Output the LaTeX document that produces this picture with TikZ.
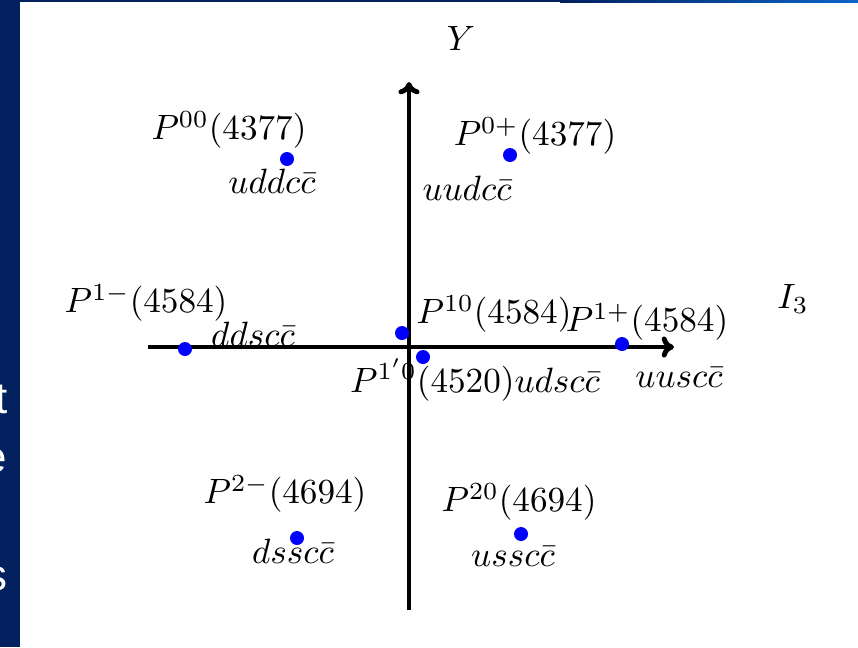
\documentclass[tikz,border=0pt]{standalone}
\usepackage{fontspec}
\usepackage{amsmath}
\usetikzlibrary{arrows.meta}
\newfontfamily\slidefont{Liberation Sans}
\definecolor{SlideNavy}{HTML}{03205F}
\definecolor{SlideBlue}{HTML}{0A64C8}
\definecolor{DotBlue}{HTML}{0000FF}

\begin{document}
\begin{tikzpicture}[x=0.01cm, y=-0.01cm,
    dot/.style={circle, fill=DotBlue, inner sep=0pt, minimum size=0.14cm},
    axis/.style={line width=1.4pt, -{To[length=3.5pt, width=6pt]}},
    lbl/.style={inner sep=0pt}]
  \useasboundingbox (0,0) rectangle (858,647);
  % Slide frame
  \fill[SlideNavy] (0,0) rectangle (20,647);
  \fill[SlideNavy] (0,0) rectangle (560,2);
  \shade[left color=SlideNavy, right color=SlideBlue] (560,0) rectangle (858,2);
  % Cut off slide text
  \begin{scope}
    \clip (0,0) rectangle (20,647);
    \foreach \n/\y in {t/413, e/472, s/590}{
      \node[anchor=base east, inner sep=0pt, text=white,
            font=\slidefont\fontsize{12.5}{15}\selectfont] (slide\n) at (8,\y) {\n};
    }
  \end{scope}
  % Multiplet labels
  \foreach \n/\x/\y/\txt in {l00/229/130/P^{00}(4377), q00/272/181/uddc\bar{c},
      l0p/535/136/P^{0+}(4377), q0p/467/188/uudc\bar{c},
      l1m/146/303/P^{1-}(4584), q1m/253/334/ddsc\bar{c},
      l10/494/314/P^{10}(4584), l1p/647/322/P^{1+}(4584), q1p/679/377/uusc\bar{c},
      l1q/475/380/P^{1'0}(4520)udsc\bar{c},
      l2m/285/494/P^{2-}(4694), q2m/293/551/dssc\bar{c},
      l20/519/502/P^{20}(4694), q20/513/556/ussc\bar{c}}{
    \node[lbl] (\n) at (\x,\y) {$\txt$};
  }
  % Axes
  \node[lbl] (ylab) at (461,38) {$Y$};
  \node[lbl] (ilab) at (793,299) {$I_3$};
  \coordinate (xlo) at (148,347);
  \coordinate (xhi) at (674,347);
  \coordinate (ylo) at (409,610);
  \coordinate (yhi) at (409,82);
  \draw[axis] (xlo) -- (xhi);
  \draw[axis] (ylo) -- (yhi);
  % States
  \foreach \n/\x/\y in {d00/287/159, d0p/510/155, d1m/185/349, d10/402/333,
      d1q/423/357, d1p/622/344, d2m/297/538, d20/521/534}{
    \node[dot] (\n) at (\x,\y) {};
  }
\end{tikzpicture}
\end{document}
